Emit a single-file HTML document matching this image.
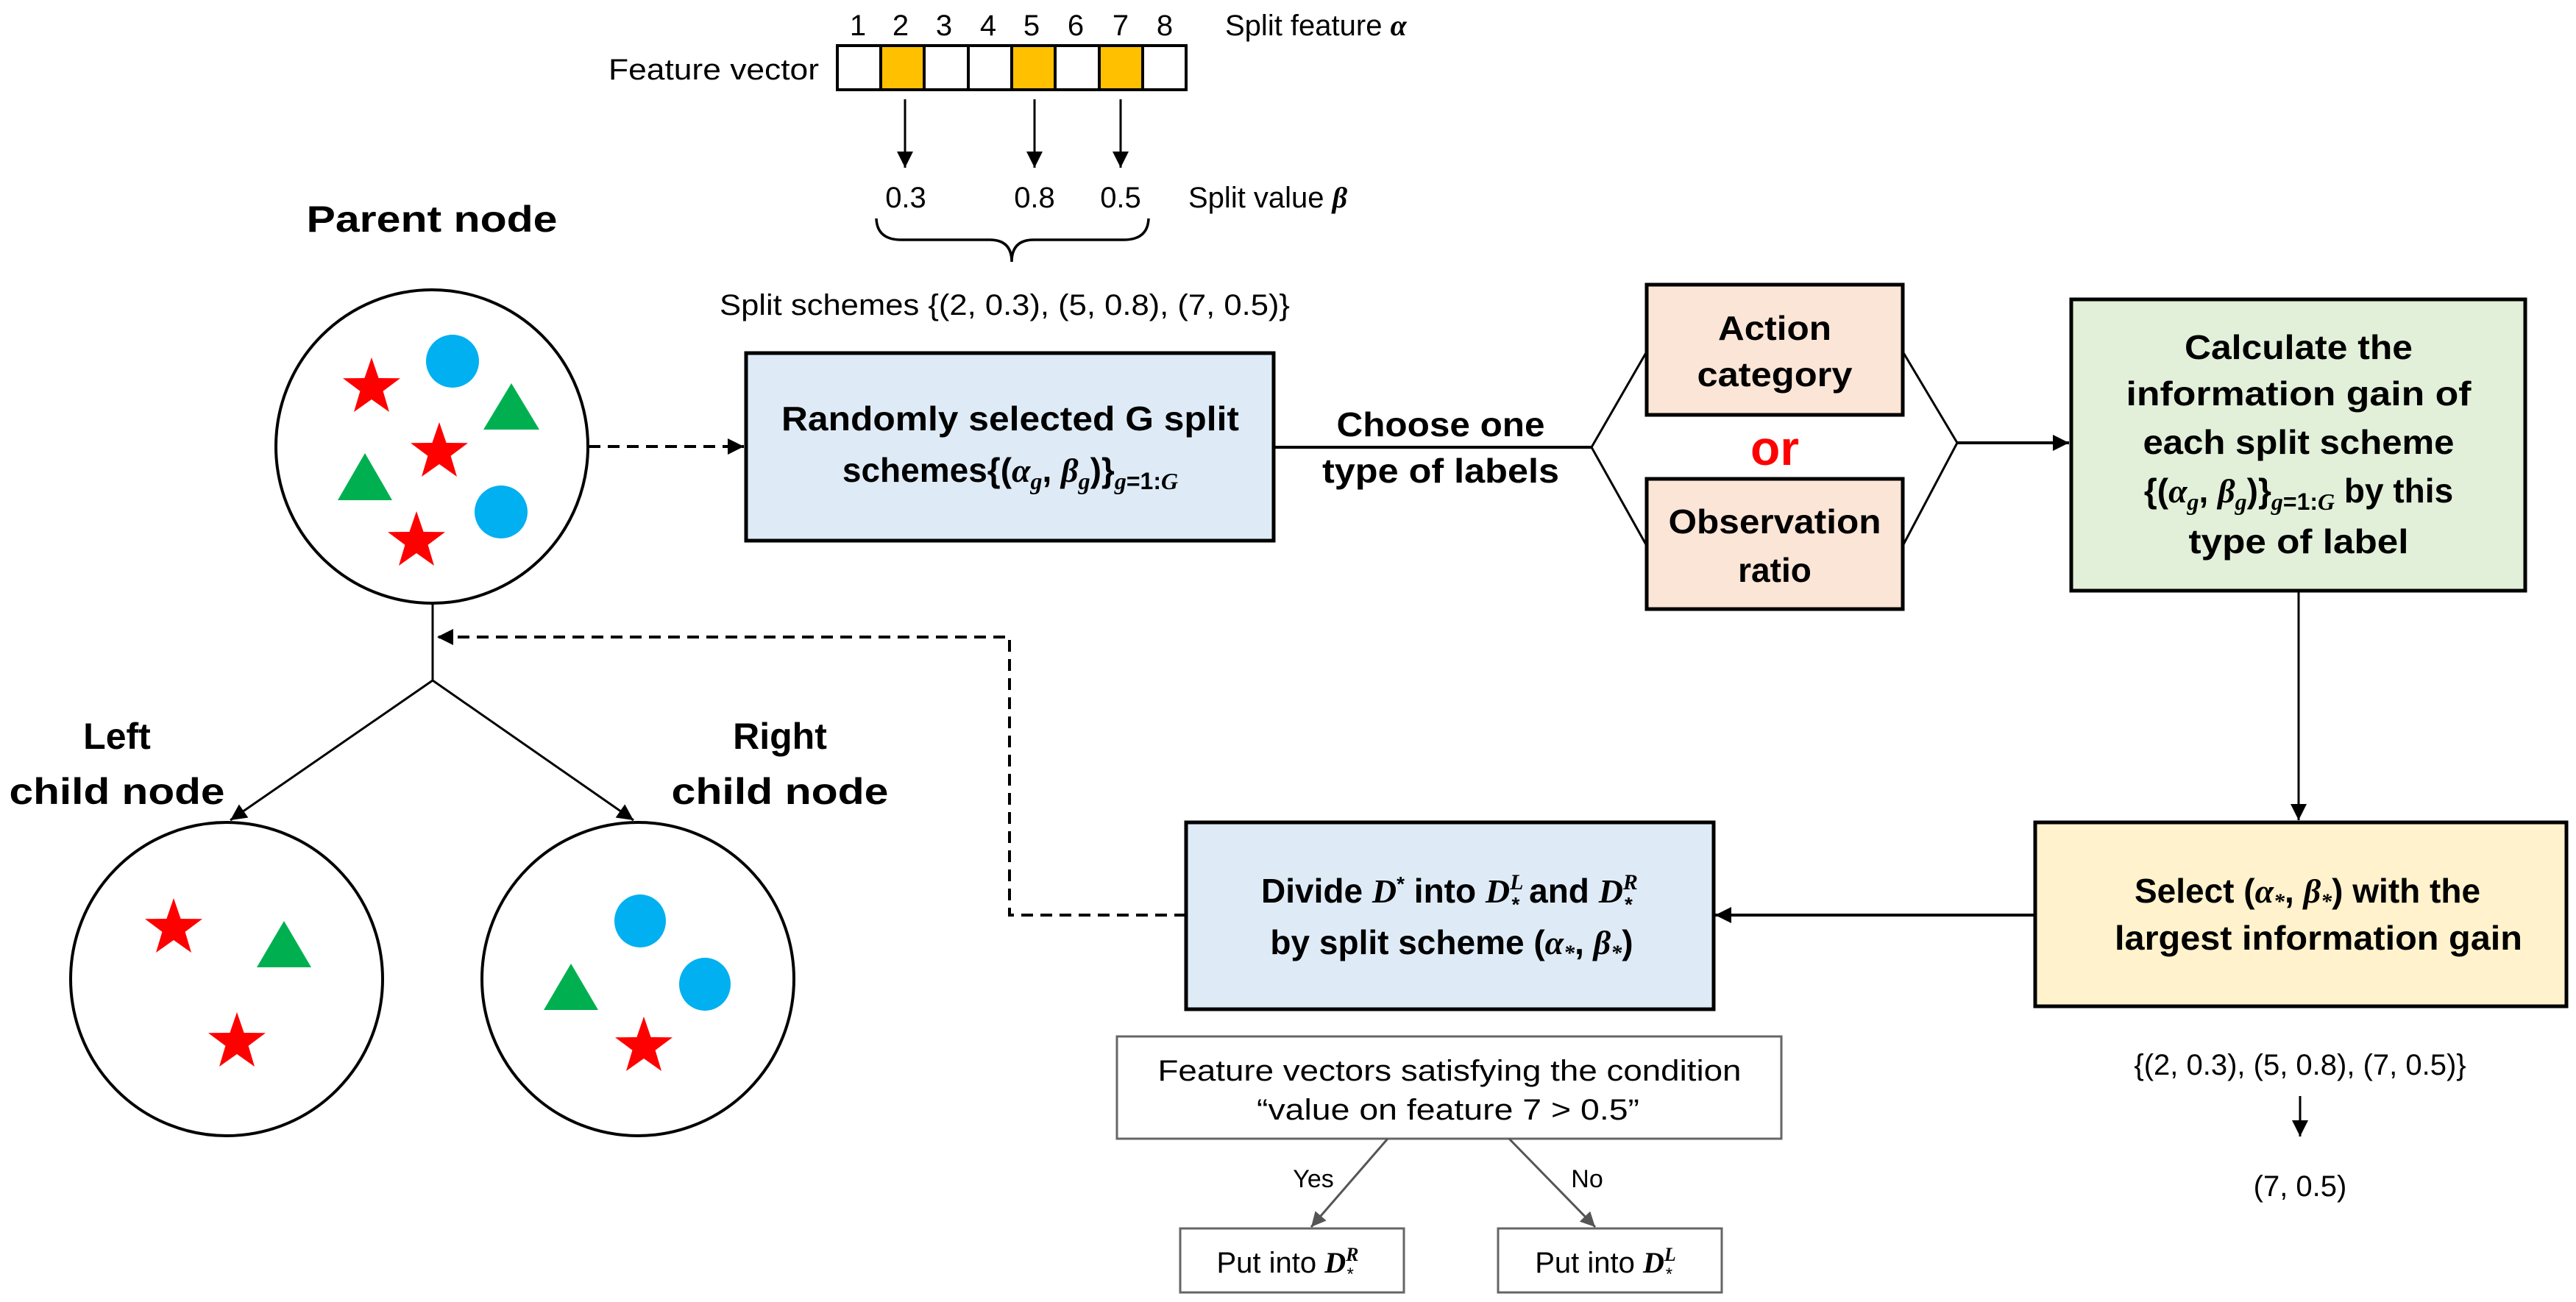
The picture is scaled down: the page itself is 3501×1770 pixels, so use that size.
<!DOCTYPE html>
<html><head><meta charset="utf-8"><style>
html,body{margin:0;padding:0;background:#fff;}
svg{display:block;}
text{font-family:"Liberation Sans",sans-serif;fill:#000;}
.b{font-weight:bold;}
.m{font-family:"Liberation Serif",serif;font-style:italic;font-weight:bold;}
</style></head><body>
<svg width="3501" height="1770" viewBox="0 0 3501 1770" xmlns="http://www.w3.org/2000/svg">
<defs>
<marker id="a1" viewBox="0 0 10 10" refX="10" refY="5" markerWidth="24" markerHeight="22" orient="auto" markerUnits="userSpaceOnUse"><path d="M0,0 L10,5 L0,10 z" fill="#000"/></marker>
<marker id="ag" viewBox="0 0 10 10" refX="10" refY="5" markerWidth="24" markerHeight="20" orient="auto" markerUnits="userSpaceOnUse"><path d="M0,0 L10,5 L0,10 z" fill="#555"/></marker>
<polygon id="star" points="0,-41 9.6,-13 39,-12.7 15.6,4.8 24,33 0,16 -24,33 -15.6,4.8 -39,-12.7 -9.6,-13"/>
</defs>

<!-- feature vector -->
<g font-size="40">
<text x="1166" y="48" text-anchor="middle">1</text>
<text x="1224" y="48" text-anchor="middle">2</text>
<text x="1283" y="48" text-anchor="middle">3</text>
<text x="1343" y="48" text-anchor="middle">4</text>
<text x="1402" y="48" text-anchor="middle">5</text>
<text x="1462" y="48" text-anchor="middle">6</text>
<text x="1523" y="48" text-anchor="middle">7</text>
<text x="1583" y="48" text-anchor="middle">8</text>
<text x="1665" y="48">Split feature <tspan class="m" font-weight="normal">α</tspan></text>
<text x="1113" y="108" text-anchor="end" textLength="286" lengthAdjust="spacingAndGlyphs">Feature vector</text>
</g>
<g stroke="#000" stroke-width="4">
<rect x="1138" y="62" width="474" height="60" fill="#fff"/>
<rect x="1197" y="62" width="59" height="60" fill="#FFC000"/>
<rect x="1375" y="62" width="59" height="60" fill="#FFC000"/>
<rect x="1494" y="62" width="59" height="60" fill="#FFC000"/>
<line x1="1256" y1="62" x2="1256" y2="122"/><line x1="1316" y1="62" x2="1316" y2="122"/><line x1="1434" y1="62" x2="1434" y2="122"/><line x1="1494" y1="62" x2="1494" y2="122"/>
</g>
<g stroke="#000" stroke-width="3">
<line x1="1230" y1="135" x2="1230" y2="228" marker-end="url(#a1)"/>
<line x1="1406" y1="135" x2="1406" y2="228" marker-end="url(#a1)"/>
<line x1="1523" y1="135" x2="1523" y2="228" marker-end="url(#a1)"/>
</g>
<g font-size="40">
<text x="1231" y="282" text-anchor="middle">0.3</text>
<text x="1406" y="282" text-anchor="middle">0.8</text>
<text x="1523" y="282" text-anchor="middle">0.5</text>
<text x="1615" y="282">Split value <tspan class="m" font-weight="normal">β</tspan></text>
<text x="978" y="428" textLength="775" lengthAdjust="spacingAndGlyphs">Split schemes {(2, 0.3), (5, 0.8), (7, 0.5)}</text>
</g>
<path d="M1191,297 Q1192,326 1225,326 L1345,326 Q1375,326 1375,356 Q1375,326 1405,326 L1527,326 Q1560,326 1561,297" fill="none" stroke="#000" stroke-width="3.5"/>

<!-- parent node -->
<text x="587" y="315" class="b" font-size="50" text-anchor="middle" textLength="341" lengthAdjust="spacingAndGlyphs">Parent node</text>
<ellipse cx="587" cy="607" rx="212" ry="213" fill="#fff" stroke="#000" stroke-width="4"/>
<g fill="#FF0000">
<use href="#star" x="505" y="527"/><use href="#star" x="597" y="615"/><use href="#star" x="566" y="736"/>
</g>
<g fill="#00B0F0"><ellipse cx="615" cy="491" rx="36" ry="36"/><ellipse cx="681" cy="696" rx="36" ry="36"/></g>
<g fill="#00B050"><polygon points="695,521 733,584 657,584"/><polygon points="496,616 533,680 459,680"/></g>

<line x1="800" y1="607" x2="1011" y2="607" stroke="#000" stroke-width="4" stroke-dasharray="16,10" marker-end="url(#a1)"/>

<!-- box1 -->
<rect x="1014" y="480" width="717" height="255" fill="#DEEBF7" stroke="#000" stroke-width="5"/>
<text x="1373" y="585" class="b" font-size="46" text-anchor="middle" textLength="622" lengthAdjust="spacingAndGlyphs">Randomly selected G split</text>
<text x="1373" y="655" class="b" font-size="46" text-anchor="middle">schemes{(<tspan class="m">α</tspan><tspan class="m" font-size="32" dy="10">g</tspan><tspan dy="-10">, </tspan><tspan class="m">β</tspan><tspan class="m" font-size="32" dy="10">g</tspan><tspan dy="-10">)}</tspan><tspan class="m" font-size="32" dy="10">g</tspan><tspan font-size="32">=1:</tspan><tspan class="m" font-size="32">G</tspan></text>

<line x1="1731" y1="608" x2="2163" y2="608" stroke="#000" stroke-width="4"/>
<text x="1958" y="593" class="b" font-size="46" text-anchor="middle" textLength="283" lengthAdjust="spacingAndGlyphs">Choose one</text>
<text x="1958" y="656" class="b" font-size="46" text-anchor="middle" textLength="322" lengthAdjust="spacingAndGlyphs">type of labels</text>
<polyline points="2238,478 2163,608 2238,742" fill="none" stroke="#000" stroke-width="3"/>
<polyline points="2586,478 2660,602 2586,742" fill="none" stroke="#000" stroke-width="3"/>
<line x1="2660" y1="602" x2="2812" y2="602" stroke="#000" stroke-width="4" marker-end="url(#a1)"/>

<rect x="2238" y="387" width="348" height="177" fill="#FBE5D6" stroke="#000" stroke-width="5"/>
<text x="2412" y="462" class="b" font-size="46" text-anchor="middle" textLength="154" lengthAdjust="spacingAndGlyphs">Action</text>
<text x="2412" y="525" class="b" font-size="46" text-anchor="middle" textLength="211" lengthAdjust="spacingAndGlyphs">category</text>
<text x="2412" y="632" class="b" font-size="66" text-anchor="middle" style="fill:#FF0000">or</text>
<rect x="2238" y="651" width="348" height="177" fill="#FBE5D6" stroke="#000" stroke-width="5"/>
<text x="2412" y="725" class="b" font-size="46" text-anchor="middle" textLength="289" lengthAdjust="spacingAndGlyphs">Observation</text>
<text x="2412" y="791" class="b" font-size="46" text-anchor="middle">ratio</text>

<rect x="2815" y="407" width="617" height="396" fill="#E2F0D9" stroke="#000" stroke-width="5"/>
<g class="b" font-size="46" text-anchor="middle">
<text x="3124" y="488" textLength="310" lengthAdjust="spacingAndGlyphs">Calculate the</text>
<text x="3124" y="551" textLength="469" lengthAdjust="spacingAndGlyphs">information gain of</text>
<text x="3124" y="617" textLength="423" lengthAdjust="spacingAndGlyphs">each split scheme</text>
<text x="3124" y="683">{(<tspan class="m">α</tspan><tspan class="m" font-size="32" dy="10">g</tspan><tspan dy="-10">, </tspan><tspan class="m">β</tspan><tspan class="m" font-size="32" dy="10">g</tspan><tspan dy="-10">)}</tspan><tspan class="m" font-size="32" dy="10">g</tspan><tspan font-size="32">=1:</tspan><tspan class="m" font-size="32">G</tspan><tspan dy="-10"> by this</tspan></text>
<text x="3124" y="752" textLength="299" lengthAdjust="spacingAndGlyphs">type of label</text>
</g>
<line x1="3124" y1="803" x2="3124" y2="1115" stroke="#000" stroke-width="3" marker-end="url(#a1)"/>

<rect x="2766" y="1118" width="722" height="250" fill="#FFF2CC" stroke="#000" stroke-width="5"/>
<text x="3136" y="1227" class="b" font-size="46" text-anchor="middle">Select (<tspan class="m">α</tspan><tspan class="m" font-size="30" dy="8">*</tspan><tspan dy="-8">, </tspan><tspan class="m">β</tspan><tspan class="m" font-size="30" dy="8">*</tspan><tspan dy="-8">) with the</tspan></text>
<text x="3151" y="1291" class="b" font-size="46" text-anchor="middle" textLength="554" lengthAdjust="spacingAndGlyphs">largest information gain</text>
<line x1="2765" y1="1244" x2="2331" y2="1244" stroke="#000" stroke-width="4" marker-end="url(#a1)"/>

<text x="3126" y="1461" font-size="40" text-anchor="middle">{(2, 0.3), (5, 0.8), (7, 0.5)}</text>
<line x1="3126" y1="1490" x2="3126" y2="1545" stroke="#000" stroke-width="3" marker-end="url(#a1)"/>
<text x="3126" y="1626" font-size="40" text-anchor="middle">(7, 0.5)</text>

<!-- box2 -->
<rect x="1612" y="1118" width="717" height="254" fill="#DEEBF7" stroke="#000" stroke-width="5"/>
<text x="1970" y="1227" class="b" font-size="46" text-anchor="middle">Divide <tspan class="m">D</tspan><tspan font-size="28" dy="-16">*</tspan><tspan dy="16"> into </tspan><tspan class="m">D</tspan><tspan class="m" font-size="30" dy="-18">L</tspan><tspan font-size="28" dx="-16" dy="30">*</tspan><tspan dy="-12"> and </tspan><tspan class="m">D</tspan><tspan class="m" font-size="30" dy="-18">R</tspan><tspan font-size="28" dx="-18" dy="30">*</tspan></text>
<text x="1973" y="1297" class="b" font-size="46" text-anchor="middle">by split scheme (<tspan class="m">α</tspan><tspan class="m" font-size="30" dy="8">*</tspan><tspan dy="-8">, </tspan><tspan class="m">β</tspan><tspan class="m" font-size="30" dy="8">*</tspan><tspan dy="-8">)</tspan></text>

<!-- feedback dashed -->
<polyline points="1612,1244 1372,1244 1372,866 594,866" fill="none" stroke="#000" stroke-width="4" stroke-dasharray="16,10" marker-end="url(#a1)"/>

<!-- tree -->
<line x1="588" y1="820" x2="588" y2="925" stroke="#000" stroke-width="3"/>
<line x1="588" y1="925" x2="313" y2="1115" stroke="#000" stroke-width="3" marker-end="url(#a1)"/>
<line x1="588" y1="925" x2="861" y2="1115" stroke="#000" stroke-width="3" marker-end="url(#a1)"/>
<text x="159" y="1018" class="b" font-size="50" text-anchor="middle">Left</text>
<text x="159" y="1093" class="b" font-size="50" text-anchor="middle" textLength="293" lengthAdjust="spacingAndGlyphs">child node</text>
<text x="1060" y="1018" class="b" font-size="50" text-anchor="middle">Right</text>
<text x="1060" y="1093" class="b" font-size="50" text-anchor="middle" textLength="295" lengthAdjust="spacingAndGlyphs">child node</text>

<ellipse cx="308" cy="1331" rx="212" ry="213" fill="#fff" stroke="#000" stroke-width="4"/>
<ellipse cx="867" cy="1331" rx="212" ry="213" fill="#fff" stroke="#000" stroke-width="4"/>
<g fill="#FF0000"><use href="#star" x="236" y="1262"/><use href="#star" x="322" y="1417"/><use href="#star" x="875" y="1423"/></g>
<g fill="#00B050"><polygon points="386,1252 423,1315 349,1315"/><polygon points="776,1310 813,1373 739,1373"/></g>
<g fill="#00B0F0"><ellipse cx="870" cy="1252" rx="35" ry="36"/><ellipse cx="958" cy="1338" rx="35" ry="36"/></g>

<!-- condition -->
<rect x="1518" y="1409" width="903" height="139" fill="#fff" stroke="#666" stroke-width="3"/>
<text x="1970" y="1469" font-size="40" text-anchor="middle" textLength="793" lengthAdjust="spacingAndGlyphs">Feature vectors satisfying the condition</text>
<text x="1968" y="1522" font-size="40" text-anchor="middle" textLength="520" lengthAdjust="spacingAndGlyphs">“value on feature 7 &gt; 0.5”</text>
<line x1="1886" y1="1548" x2="1782" y2="1668" stroke="#555" stroke-width="3" marker-end="url(#ag)"/>
<line x1="2051" y1="1548" x2="2168" y2="1668" stroke="#555" stroke-width="3" marker-end="url(#ag)"/>
<text x="1785" y="1614" font-size="34" text-anchor="middle">Yes</text>
<text x="2157" y="1614" font-size="34" text-anchor="middle">No</text>
<rect x="1604" y="1670" width="304" height="87" fill="#fff" stroke="#666" stroke-width="3"/>
<rect x="2036" y="1670" width="304" height="87" fill="#fff" stroke="#666" stroke-width="3"/>
<text x="1750" y="1730" font-size="40" text-anchor="middle">Put into <tspan class="m">D</tspan><tspan class="m" font-size="26" dy="-16">R</tspan><tspan font-size="24" dx="-16" dy="26">*</tspan></text>
<text x="2182" y="1730" font-size="40" text-anchor="middle">Put into <tspan class="m">D</tspan><tspan class="m" font-size="26" dy="-16">L</tspan><tspan font-size="24" dx="-14" dy="26">*</tspan></text>
</svg>
</body></html>
